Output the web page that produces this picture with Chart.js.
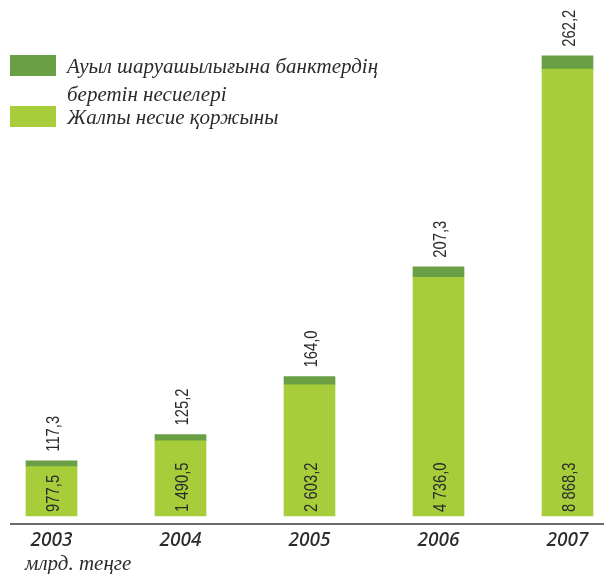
<!DOCTYPE html>
<html>
<head>
<meta charset="utf-8">
<script src="https://cdn.jsdelivr.net/npm/chart.js@4"></script>
<style>
  html, body { margin: 0; padding: 0; background: #fff; }
  #wrap { width: 604px; height: 574px; position: relative; }
</style>
</head>
<body>
<div id="wrap"><canvas id="loansChart" width="604" height="574"></canvas></div>
<script>
// values (млрд. теңге)
const years = ['2003', '2004', '2005', '2006', '2007'];
const totalPortfolio = [977.5, 1490.5, 2603.2, 4736.0, 8868.3];
const agriLoans = [117.3, 125.2, 164.0, 207.3, 262.2];

const agriLabel = ['Ауыл шаруашылығына банктердің', 'беретін несиелері'];
const totalLabel = ['Жалпы несие қоржыны'];
const unitLabel = 'млрд. теңге';

const lightGreen = '#a7ce3a';
const darkGreen = '#6a9f45';
const textColor = '#2b2b2b';
const numFont = '19px "Liberation Sans", Arial, sans-serif';
const serifItalic = 'italic 21px "Liberation Serif", "DejaVu Serif", serif';

// 1 490,5 style numbers
const fmt = (v) => {
  let parts = v.toFixed(1).split('.');
  let int = parts[0].replace(/\B(?=(\d{3})+(?!\d))/g, ' ');
  return int + ',' + parts[1];
};

// vertical, condensed text
const vText = (ctx, txt, x, y) => {
  ctx.save();
  ctx.translate(x, y);
  ctx.rotate(-Math.PI / 2);
  ctx.scale(0.78, 1);
  ctx.fillText(txt, 0, 0);
  ctx.restore();
};

// numbers written vertically on / above the bars
const barLabels = {
  id: 'barLabels',
  afterDatasetsDraw(chart) {
    const ctx = chart.ctx;
    const bottomMeta = chart.getDatasetMeta(0);
    const topMeta = chart.getDatasetMeta(1);
    ctx.save();
    ctx.font = numFont;
    ctx.fillStyle = textColor;
    ctx.textBaseline = 'middle';
    ctx.textAlign = 'left';
    for (let i = 0; i < years.length; i++) {
      let b = bottomMeta.data[i];
      vText(ctx, fmt(totalPortfolio[i]), b.x + 2, b.base - 4);
      let t = topMeta.data[i];
      vText(ctx, fmt(agriLoans[i]), t.x + 2, t.y - 9);
    }
    ctx.restore();
  }
};

// base line, legend and unit caption
const decorations = {
  id: 'decorations',
  afterDraw(chart) {
    const ctx = chart.ctx;
    const area = chart.chartArea;
    ctx.save();

    ctx.strokeStyle = '#6b6b6b';
    ctx.lineWidth = 2;
    ctx.beginPath();
    ctx.moveTo(10, area.bottom);
    ctx.lineTo(chart.width, area.bottom);
    ctx.stroke();

    ctx.font = serifItalic;
    ctx.textBaseline = 'middle';
    ctx.textAlign = 'left';

    ctx.fillStyle = darkGreen;
    ctx.fillRect(10, 55, 46, 21);
    ctx.fillStyle = lightGreen;
    ctx.fillRect(10, 106, 46, 21);

    ctx.fillStyle = textColor;
    agriLabel.forEach((line, k) => ctx.fillText(line, 67, 67 + k * 28));
    totalLabel.forEach((line, k) => ctx.fillText(line, 67, 118 + k * 28));

    ctx.fillText(unitLabel, 25, 564);
    ctx.restore();
  }
};

new Chart(document.getElementById('loansChart'), {
  type: 'bar',
  data: {
    labels: years,
    datasets: [
      {
        label: totalLabel.join(' '),
        data: totalPortfolio,
        backgroundColor: lightGreen,
        borderWidth: 0,
        clip: false
      },
      {
        label: agriLabel.join(' '),
        data: agriLoans,
        backgroundColor: darkGreen,
        borderWidth: 0,
        clip: false
      }
    ]
  },
  options: {
    responsive: false,
    animation: false,
    layout: { padding: { left: 51.5, right: 36.5, top: 12, bottom: 0 } },
    datasets: { bar: { barThickness: 51 } },
    plugins: {
      legend: { display: false },
      tooltip: { enabled: false }
    },
    scales: {
      x: {
        stacked: true,
        offset: false,
        grid: { display: false, drawTicks: false },
        border: { display: false },
        ticks: {
          color: textColor,
          padding: 5,
          font: { family: '"Noto Sans", "Liberation Sans", sans-serif', size: 19, style: 'italic', weight: '500' }
        },
        afterFit(scale) { scale.height = 50; }
      },
      y: {
        stacked: true,
        display: false,
        min: -160,
        max: 10000
      }
    }
  },
  plugins: [barLabels, decorations]
});
</script>
</body>
</html>
